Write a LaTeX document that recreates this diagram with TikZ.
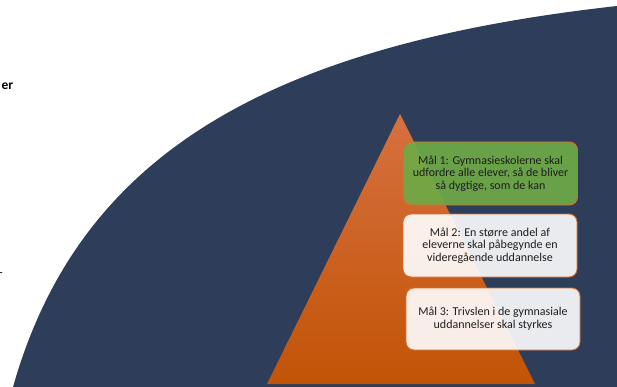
\documentclass[tikz,border=0pt]{standalone}
\usepackage{fontspec}
\setmainfont{Carlito}
\definecolor{navy}{RGB}{46,61,90}
\definecolor{orangetop}{RGB}{214,112,64}
\definecolor{orangebot}{RGB}{194,84,6}
\definecolor{goalgreen}{RGB}{110,170,70}
\definecolor{goalborder}{RGB}{214,110,50}
\definecolor{textdark}{RGB}{30,30,30}
\tikzset{
  goalbox/.style={draw=goalborder, line width=0.9pt, rounded corners=8pt,
    minimum width=174pt, minimum height=63pt, align=center,
    text=textdark, font=\fontsize{12}{12.6}\selectfont, inner sep=2pt},
  greenbox/.style={goalbox, fill=goalgreen, fill opacity=0.92, text opacity=1},
  whitebox/.style={goalbox, fill=white, fill opacity=0.9, text opacity=1},
}
\begin{document}
\begin{tikzpicture}[x=1pt,y=-1pt]
\useasboundingbox (0,0) rectangle (617,387);
\clip (0,0) rectangle (617,387);
% large navy ellipse segment
\fill[navy] (10,400) -- (13,387) .. controls (77.4,160.2) and (258.6,45.9) .. (617,6)
  -- (630,5) -- (630,400) -- cycle;
% pyramid
\shade[top color=orangetop, bottom color=orangebot] (400,114) -- (535,384) -- (267,384) -- cycle;
% goal boxes
\node[greenbox] (m1) at (490.5,173.5) {Mål 1: Gymnasieskolerne skal\\udfordre alle elever, så de bliver\\så dygtige, som de kan};
\node[whitebox] (m2) at (490,245.5) {Mål 2: En større andel af\\eleverne skal påbegynde en\\videregående uddannelse};
\node[whitebox, minimum height=62pt] (m3) at (493,319) {Mål 3: Trivslen i de gymnasiale\\uddannelser skal styrkes};
% clipped left texts
\node[anchor=east, inner sep=0pt, font=\bfseries\fontsize{13.5}{15}\selectfont] (er) at (13.5,86) {er};
\node[anchor=east, inner sep=0pt, font=\fontsize{12}{13}\selectfont] (dash) at (3,275) {-};
\end{tikzpicture}
\end{document}
